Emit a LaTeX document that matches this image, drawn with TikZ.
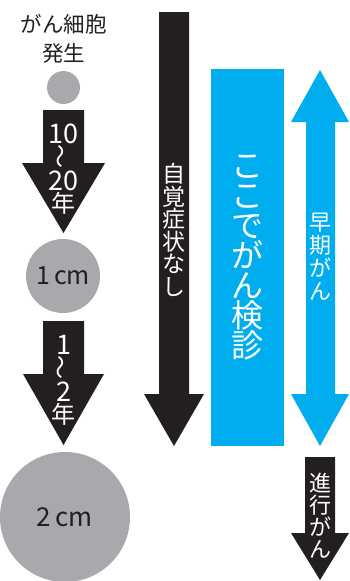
\documentclass[tikz,border=0pt]{standalone}
\usepackage{fontspec}
\setmainfont{Noto Sans CJK JP}
\definecolor{cblack}{HTML}{231F20}
\definecolor{cblue}{HTML}{00AEEF}
\definecolor{cgray}{HTML}{A7A9AC}
\tikzset{
    ball/.style={circle, fill=cgray, text=cblack, inner sep=0pt},
    tate/.style={text=white, align=center, inner sep=0pt},
}
\newcommand{\wave}{\rotatebox{90}{〜}}
\newcommand{\num}[1]{{\fontsize{27}{22}\selectfont #1}}
\begin{document}
\begin{tikzpicture}[x=1pt, y=-1pt]
    \useasboundingbox (0,0) rectangle (349,581);

    %% arrows and bars
    \fill[cblack] (43,110) -- (84,110) -- (84,163) -- (105,163) -- (63.5,233) -- (22,163) -- (43,163) -- cycle;
    \fill[cblack] (43,321) -- (84,321) -- (84,374) -- (104,374) -- (63.5,445) -- (23,374) -- (43,374) -- cycle;
    \fill[cblack] (159,12) -- (189,12) -- (189,394) -- (204,394) -- (174,446) -- (144,394) -- (159,394) -- cycle;
    \fill[cblue] (211,69) rectangle (284,446);
    \fill[cblue] (320,70) -- (349,122) -- (335,122) -- (335,394) -- (349,394) -- (320,446) -- (291,394) -- (306,394) -- (306,122) -- (291,122) -- cycle;
    \fill[cblack] (305,457) -- (335,457) -- (335,533) -- (349,533) -- (320,580) -- (291,533) -- (305,533) -- cycle;

    \draw
    (63.5,39)node[align=center, text=cblack, font=\fontsize{21.5}{29}\selectfont](title){がん細胞\\発生}
    (63.5,87.5)node[ball, minimum size=33pt](c0){}
    (63,276)node[ball, minimum size=74pt, font=\fontsize{25}{28}\selectfont](c1){1\,cm}
    (65,517)node[ball, minimum size=130pt, font=\fontsize{26}{28}\selectfont](c2){2\,cm}

    (63.5,169)node[tate, font=\fontsize{24}{22}\selectfont](a1){\num{10}\\\wave\\\num{20}\\年}
    (63.5,380)node[tate, font=\fontsize{24}{22}\selectfont](a2){\num{1}\\\wave\\\num{2}\\年}

    (174,230)node[tate, font=\fontsize{23}{22.5}\selectfont](nashi){自\\覚\\症\\状\\な\\し}
    (247.5,258)node[tate, font=\fontsize{32}{30}\selectfont](kenshin){こ\\こ\\で\\が\\ん\\検\\診}
    (320,257)node[tate, font=\fontsize{22}{23}\selectfont](souki){早\\期\\が\\ん}
    (320,516)node[tate, font=\fontsize{22}{22}\selectfont](shinkou){進\\行\\が\\ん}
    ;
\end{tikzpicture}
\end{document}
